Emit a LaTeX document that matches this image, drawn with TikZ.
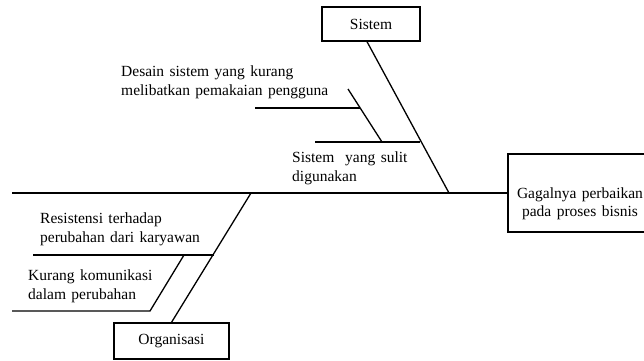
\documentclass[tikz,border=0pt]{standalone}
\usepackage{fontspec}
\setmainfont{Liberation Serif}[WordSpace=1.4]
\usetikzlibrary{positioning}
\newcommand{\fbfont}{\fontsize{15.5}{18.5}\selectfont}

\begin{document}
\begin{tikzpicture}[
  x=1pt, y=-1pt,
  box/.style={draw, line width=1.3pt, inner sep=0, font=\fbfont},
  bone/.style={line width=1.3pt},
  cause/.style={align=left, inner sep=0, anchor=north west, font=\fbfont}
]
\useasboundingbox (0,0) rectangle (644,360);

% boxes
\node[box, minimum width=98pt, minimum height=34pt] (sistem) at (371,24) {Sistem};
\node[box, minimum width=115pt, minimum height=36pt] (organisasi) at (171.5,341) {Organisasi};
\node[box, minimum width=142pt, minimum height=78pt] (gagal) at (579,193) {};
\node[align=center, inner sep=0, font=\fbfont] (gagaltxt) at (580,204) {Gagalnya perbaikan\\pada proses bisnis};

% spine and main bones
\coordinate (tail) at (12,193);
\coordinate (sj) at (449,193);
\coordinate (oj) at (251,193);
\draw[bone] (tail) -- (gagal.west);
\draw[bone] ([xshift=-4pt]sistem.south) -- (sj);
\draw[bone] (oj) -- (organisasi.north);

% sistem causes
\coordinate (s1) at (420,142);
\coordinate (s1end) at (315,142);
\coordinate (s2top) at (348,89);
\coordinate (s2bot) at (382,142);
\coordinate (s3) at (360,108);
\coordinate (s3end) at (255,108);
\draw[bone] (s1) -- (s1end);
\draw[bone] (s2top) -- (s2bot);
\draw[bone] (s3) -- (s3end);
\node[cause] (desain) at (121,66) {Desain sistem yang kurang\\melibatkan pemakaian pengguna};
\node[cause] (sulit) at (292,152) {Sistem~ yang sulit\\digunakan};

% organisasi causes
\coordinate (o1) at (214,255);
\coordinate (o1end) at (33,255);
\coordinate (o2top) at (184,255);
\coordinate (o2bot) at (150,311);
\coordinate (o2end) at (12,311);
\draw[bone] (o1) -- (o1end);
\draw[bone] (o2top) -- (o2bot) -- (o2end);
\node[cause] (resist) at (40,213) {Resistensi terhadap\\perubahan dari karyawan};
\node[cause] (komun) at (28,270) {Kurang komunikasi\\dalam perubahan};
\end{tikzpicture}
\end{document}
